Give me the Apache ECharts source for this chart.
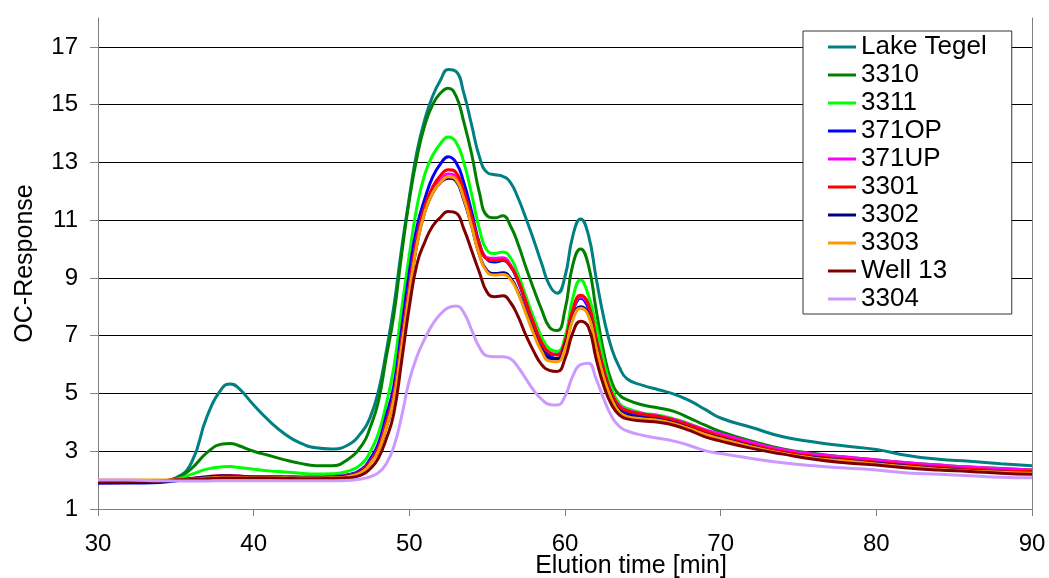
<!DOCTYPE html>
<html>
<head>
<meta charset="utf-8">
<script src="https://cdn.jsdelivr.net/npm/echarts@6/dist/echarts.min.js"></script>
<style>
html,body{margin:0;padding:0;background:#fff;}
#chart{width:1049px;height:578px;}
</style>
</head>
<body>
<div id="chart"></div>
<script>
// Elution time grid [min]
const times = [30,32,34,35,36,37,38,38.5,39,40, 41,42,43,44,45,46,47,47.5,48,48.5, 49,49.5,50,50.5,51,51.5,52,52.5,53,53.5, 54,54.5,55,55.5,56,56.5,57,57.5,58,58.5, 59,59.5,60,60.5,61,61.5,62,62.5,63,63.5, 64,65,66,67,68,69,70,72,74,76, 78,80,82,84,86,88,90];

const lakeTegel = [1.95,1.95,1.97,2.08,2.6,4.2,5.2,5.33,5.2,4.6, 4.05,3.6,3.28,3.12,3.08,3.2,3.7,4.2,5.05,6.4, 8.0,10.0,11.8,13.4,14.5,15.3,15.85,16.22,16.15,15.4, 14.3,13.2,12.65,12.57,12.52,12.3,11.75,11.05,10.3,9.5, 8.75,8.47,9.05,10.45,11.04,10.5,9.0,7.6,6.55,5.9, 5.5,5.28,5.13,4.98,4.75,4.45,4.15,3.82,3.5,3.32, 3.18,3.06,2.85,2.72,2.65,2.57,2.5];
const s3310 = [1.95,1.95,1.97,2.05,2.4,2.95,3.25,3.27,3.2,3.0, 2.85,2.7,2.58,2.5,2.5,2.7,3.25,3.85,4.7,6.2, 7.7,9.8,11.7,13.2,14.3,15.0,15.4,15.57,15.3,14.4, 13.3,11.95,11.15,11.08,11.15,10.8,10.15,9.35,8.6,7.9, 7.3,7.18,7.9,9.45,10.0,9.45,7.9,6.4,5.4,4.95, 4.78,4.6,4.5,4.38,4.15,3.9,3.68,3.35,3.08,2.92, 2.8,2.7,2.6,2.52,2.45,2.4,2.35];
const s3311 = [1.95,1.95,1.97,2.02,2.2,2.38,2.46,2.47,2.44,2.38, 2.32,2.28,2.24,2.21,2.22,2.3,2.6,3.0,3.6,4.6, 5.9,7.9,9.8,11.5,12.6,13.25,13.65,13.88,13.7,13.0, 11.9,10.7,9.95,9.85,9.9,9.7,9.1,8.35,7.6,6.95, 6.55,6.45,6.95,8.3,8.93,8.4,7.35,6.1,5.15,4.65, 4.48,4.32,4.25,4.12,3.95,3.72,3.55,3.25,3.0,2.85, 2.73,2.63,2.53,2.45,2.38,2.33,2.28];
const s371OP = [1.9,1.9,1.92,1.98,2.05,2.1,2.13,2.13,2.12,2.1, 2.1,2.1,2.1,2.1,2.12,2.18,2.4,2.75,3.25,4.2, 5.25,7.2,9.2,10.8,11.75,12.5,12.95,13.2,13.0,12.3, 11.3,10.2,9.65,9.55,9.6,9.4,8.85,8.1,7.35,6.7, 6.3,6.2,6.7,7.8,8.3,7.95,6.85,5.75,4.95,4.5, 4.35,4.22,4.15,4.02,3.85,3.65,3.5,3.2,2.95,2.8, 2.7,2.6,2.5,2.42,2.36,2.3,2.25];
const s371UP = [1.95,1.96,1.98,2.0,2.06,2.12,2.15,2.15,2.14,2.12, 2.12,2.11,2.1,2.1,2.11,2.15,2.35,2.65,3.1,3.95, 4.95,6.8,8.7,10.4,11.45,12.05,12.4,12.6,12.5,11.9, 11.05,10.15,9.7,9.68,9.7,9.45,8.9,8.15,7.4,6.75, 6.42,6.35,6.8,7.85,8.35,8.05,6.9,5.8,5.0,4.58, 4.42,4.3,4.22,4.1,3.93,3.75,3.6,3.3,3.05,2.9, 2.8,2.7,2.6,2.52,2.45,2.4,2.35];
const s3301 = [1.95,1.96,1.98,2.0,2.06,2.12,2.15,2.15,2.14,2.12, 2.12,2.11,2.1,2.1,2.11,2.15,2.35,2.65,3.1,3.95, 4.95,6.8,8.7,10.4,11.5,12.15,12.55,12.75,12.65,12.0, 11.1,10.15,9.65,9.6,9.62,9.4,8.9,8.15,7.4,6.75, 6.4,6.33,6.8,7.9,8.4,8.1,6.9,5.8,5.0,4.55, 4.4,4.28,4.2,4.07,3.9,3.7,3.52,3.22,2.98,2.82, 2.72,2.62,2.52,2.45,2.38,2.32,2.3];
const s3302 = [1.9,1.92,1.95,1.98,2.05,2.1,2.14,2.14,2.13,2.1, 2.1,2.1,2.09,2.09,2.1,2.14,2.32,2.6,3.0,3.8, 4.8,6.6,8.5,10.2,11.3,11.95,12.3,12.45,12.35,11.7, 10.8,9.8,9.25,9.15,9.18,9.0,8.5,7.8,7.1,6.5, 6.22,6.2,6.65,7.6,8.0,7.75,6.65,5.6,4.85,4.4, 4.25,4.15,4.1,3.98,3.8,3.6,3.45,3.17,2.93,2.78, 2.68,2.58,2.48,2.4,2.33,2.28,2.24];
const s3303 = [2.0,2.0,2.0,2.0,2.03,2.07,2.1,2.1,2.1,2.08, 2.08,2.08,2.07,2.07,2.08,2.12,2.3,2.58,3.0,3.8, 4.8,6.6,8.5,10.2,11.3,11.95,12.3,12.5,12.4,11.75, 10.8,9.8,9.2,9.1,9.12,8.95,8.45,7.75,7.05,6.45, 6.12,6.1,6.55,7.55,7.95,7.7,6.6,5.55,4.8,4.35, 4.2,4.12,4.07,3.95,3.78,3.58,3.43,3.15,2.92,2.76, 2.66,2.56,2.46,2.38,2.32,2.27,2.24];
const well13 = [1.92,1.95,1.97,2.0,2.02,2.05,2.07,2.07,2.07,2.07, 2.07,2.06,2.05,2.05,2.06,2.08,2.2,2.4,2.75,3.4, 4.3,6.1,8.0,9.5,10.25,10.8,11.1,11.3,11.25,10.7, 9.95,9.2,8.5,8.35,8.38,8.15,7.65,7.0,6.45,6.0, 5.8,5.76,6.2,7.1,7.5,7.3,6.2,5.25,4.6,4.25, 4.12,4.05,4.0,3.9,3.72,3.5,3.35,3.1,2.9,2.72, 2.6,2.52,2.42,2.35,2.3,2.24,2.2];
const s3304 = [2.0,2.0,1.98,1.97,1.97,1.97,1.98,1.98,1.98,1.98, 1.98,1.98,1.98,1.98,1.98,1.99,2.05,2.12,2.25,2.55, 3.15,4.2,5.45,6.3,6.9,7.4,7.75,7.97,8.03,7.8, 7.2,6.6,6.3,6.27,6.27,6.2,5.9,5.5,5.1,4.8, 4.62,4.6,4.9,5.6,6.0,6.05,5.5,4.8,4.2,3.85, 3.7,3.55,3.45,3.35,3.2,3.02,2.92,2.75,2.6,2.5, 2.42,2.35,2.25,2.2,2.15,2.1,2.08];

const seriesNames = ['Lake Tegel','3310','3311','371OP','371UP','3301','3302','3303','Well 13','3304'];
const seriesValues = [lakeTegel,s3310,s3311,s371OP,s371UP,s3301,s3302,s3303,well13,s3304];
const seriesColors = ['#008080','#008000','#00FF00','#0000FF','#FF00FF','#FF0000','#000080','#FF9900','#800000','#CC99FF'];

const yTicks = [1,3,5,7,9,11,13,15,17];
const xTicks = [30,40,50,60,70,80,90];

const FONT = '"Liberation Sans", Arial, sans-serif';

const chart = echarts.init(document.getElementById('chart'), null, {renderer:'canvas'});

const series = seriesNames.map((name, i) => ({
  name: name,
  type: 'line',
  data: times.map((t, k) => [t, seriesValues[i][k]]),
  smooth: 0.5,
  showSymbol: false,
  symbol: 'none',
  lineStyle: {width: 3, color: seriesColors[i]},
  itemStyle: {color: seriesColors[i]},
  emphasis: {disabled: true},
  z: 2
}));

chart.setOption({
  animation: false,
  backgroundColor: '#ffffff',
  textStyle: {fontFamily: FONT},
  grid: {left: 98, right: 17, top: 18, bottom: 69, containLabel: false},
  xAxis: {
    type: 'value', min: 30, max: 90, interval: 10,
    axisLine: {show: true, onZero: false, lineStyle: {color: '#808080', width: 1}},
    axisTick: {show: true, inside: false, length: 7, lineStyle: {color: '#808080'}, customValues: xTicks},
    axisLabel: {color: '#000', fontSize: 24, fontFamily: FONT, margin: 23, customValues: xTicks},
    splitLine: {show: false}
  },
  yAxis: [{
    type: 'value', min: 1, max: 18, interval: 2,
    axisLine: {show: true, onZero: false, lineStyle: {color: '#808080', width: 1}},
    axisTick: {show: true, inside: false, length: 8, lineStyle: {color: '#808080'}, customValues: yTicks},
    axisLabel: {color: '#000', fontSize: 24, fontFamily: FONT, margin: 20, customValues: yTicks},
    splitLine: {show: true, lineStyle: {color: ['#808080','#000','#000','#000','#000','#000','#000','#000','#000','rgba(0,0,0,0)'], width: 1}},
    name: 'OC-Response',
    nameLocation: 'middle',
    nameGap: 60,
    nameRotate: 90,
    nameTextStyle: {color: '#000', fontSize: 25, fontFamily: FONT}
  },{
    type: 'value', min: 1, max: 18, position: 'right',
    axisLine: {show: true, onZero: false, lineStyle: {color: '#808080', width: 1}},
    axisTick: {show: false}, axisLabel: {show: false}, splitLine: {show: false}
  }],
  legend: {
    orient: 'vertical',
    left: 803, top: 31,
    padding: [2, 25, 1, 25],
    itemGap: 0,
    itemWidth: 28, itemHeight: 3,
    icon: 'rect',
    itemStyle: {borderWidth: 0},
    borderColor: '#333', borderWidth: 1,
    backgroundColor: '#fff',
    textStyle: {color: '#000', fontSize: 26, lineHeight: 28, fontFamily: FONT, padding: [0,0,0,0]},
    data: seriesNames
  },
  graphic: [{
    type: 'text',
    x: 631, y: 566,
    style: {text: 'Elution time [min]', fontSize: 25, fontFamily: FONT, fill: '#000', align: 'center', verticalAlign: 'middle'}
  }],
  series: series
});
</script>
</body>
</html>
